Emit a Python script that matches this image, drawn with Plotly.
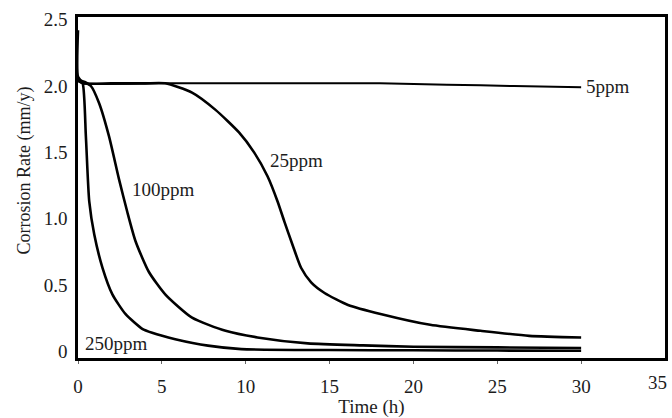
import plotly.graph_objects as go

# Corrosion rate (mm/y) versus exposure time (h) for four inhibitor concentrations
time_5ppm = [0, 0.3, 5, 10, 15, 18, 22, 26, 30]
rate_5ppm = [2.04, 2.02, 2.02, 2.02, 2.02, 2.02, 2.01, 2.0, 1.99]

time_25ppm = [0, 0.3, 2, 4, 5.2, 6.8, 8.2, 9.6, 10.5, 11.3, 11.9, 12.3, 12.8, 13.3,
              13.9, 14.7, 16.1, 18.1, 21.0, 24.0, 26.9, 30]
rate_25ppm = [2.04, 2.02, 2.02, 2.02, 2.02, 1.95, 1.82, 1.65, 1.50, 1.32, 1.13, 0.98,
              0.80, 0.63, 0.52, 0.44, 0.35, 0.28, 0.20, 0.155, 0.117, 0.105]

time_100ppm = [0, 0.4, 0.77, 1.26, 1.85, 2.44, 2.94, 3.43, 4.22, 5.2, 6.8, 8.8, 10.7,
               13.7, 17, 20, 25, 30]
rate_100ppm = [2.05, 2.03, 2.0, 1.87, 1.62, 1.30, 1.05, 0.83, 0.60, 0.43, 0.254, 0.155,
               0.105, 0.06, 0.045, 0.035, 0.03, 0.025]

time_250ppm = [0, 0, 0.28, 0.47, 0.67, 0.97, 1.46, 2.05, 2.84, 3.83, 4.42, 5.8, 7.75,
               9.74, 15, 20, 25, 30]
rate_250ppm = [2.42, 2.07, 2.02, 1.62, 1.13, 0.88, 0.63, 0.43, 0.28, 0.17, 0.14, 0.092,
               0.043, 0.017, 0.01, 0.008, 0.006, 0.005]

series = [
    ("5ppm", time_5ppm, rate_5ppm, 2.0),
    ("25ppm", time_25ppm, rate_25ppm, 2.6),
    ("100ppm", time_100ppm, rate_100ppm, 2.6),
    ("250ppm", time_250ppm, rate_250ppm, 2.6),
]

# curve labels: text, x (h), y (mm/y)
label_text = ["5ppm", "25ppm", "100ppm", "250ppm"]
label_x = [30.15, 11.35, 3.1, 0.28]
label_y = [2.0, 1.44, 1.22, 0.06]

x_ticks = [0, 5, 10, 15, 20, 25, 30]
x_last_tick = 35
y_ticks = [0, 0.5, 1.0, 1.5, 2.0, 2.5]
y_tick_text = ["0", "0.5", "1.0", "1.5", "2.0", "2.5"]

SERIF = "Liberation Serif, Times New Roman, serif"
INK = "#1c1c1c"

fig = go.Figure()
for name, t, r, w in series:
    fig.add_trace(go.Scatter(
        x=t, y=r, mode="lines", name=name,
        line=dict(color="black", width=w, shape="spline", smoothing=0.6),
        showlegend=False, hoverinfo="skip",
    ))

for txt, lx, ly in zip(label_text, label_x, label_y):
    fig.add_annotation(x=lx, y=ly, text=txt, showarrow=False,
                       xanchor="left", yanchor="middle",
                       font=dict(family=SERIF, size=19, color=INK))

# the last x tick label sits flush against the right edge of the figure
fig.add_annotation(x=x_last_tick, y=0, xref="x", yref="paper", yshift=-12, xshift=4,
                   text=str(x_last_tick), showarrow=False,
                   xanchor="right", yanchor="top",
                   font=dict(family=SERIF, size=19, color=INK))

# rotated y-axis title
fig.add_annotation(xref="paper", yref="paper", x=-0.092, y=0.55,
                   text="Corrosion Rate (mm/y)", textangle=-90, showarrow=False,
                   font=dict(family=SERIF, size=18, color=INK),
                   xanchor="center", yanchor="middle")

fig.update_xaxes(
    range=[0, 35], tickvals=x_ticks, showgrid=False, zeroline=False,
    showline=True, mirror=True, linecolor="black", linewidth=2.5,
    ticks="outside", ticklen=3, tickcolor="#666", tickwidth=1,
    ticklabelstandoff=6,
    tickfont=dict(family=SERIF, size=19, color=INK),
    title=dict(text="Time (h)", font=dict(family=SERIF, size=19, color=INK), standoff=4),
)
fig.update_yaxes(
    range=[-0.05, 2.52], tickvals=y_ticks, ticktext=y_tick_text,
    showgrid=False, zeroline=False,
    showline=True, mirror=True, linecolor="black", linewidth=2.5,
    ticks="", ticklabelstandoff=4,
    tickfont=dict(family=SERIF, size=19, color=INK),
)

fig.update_layout(
    width=672, height=418,
    margin=dict(l=78, r=4, t=17, b=57),
    plot_bgcolor="white", paper_bgcolor="white",
)

fig.write_html("out.html")
